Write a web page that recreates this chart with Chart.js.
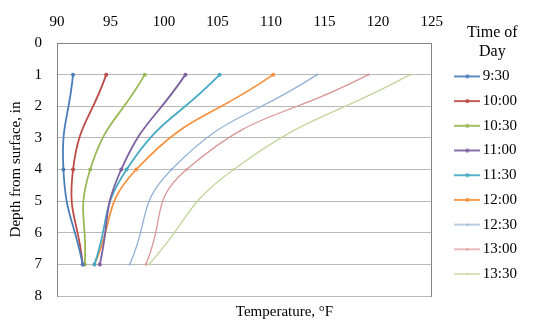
<!DOCTYPE html>
<html>
<head>
<meta charset="utf-8">
<title>Soil temperature by depth</title>
<script src="https://cdn.jsdelivr.net/npm/chart.js@4/dist/chart.umd.min.js"></script>
<style>
    html, body { margin: 0; padding: 0; background: #fff; }
    #wrap { width: 537px; height: 326px; position: relative; }
</style>
</head>
<body>
<div id="wrap"><canvas id="chart"></canvas></div>
<script>
"use strict";

// depth below the surface (in) where the probes sit
const depths = [1, 4, 7];

const times = ["9:30", "10:00", "10:30", "11:00", "11:30", "12:00", "12:30", "13:00", "13:30"];

// temperature (°F) at each depth
const t0930 = [91.5, 90.6, 92.4];
const t1000 = [94.6, 91.5, 92.4];
const t1030 = [98.2, 93.1, 92.6];
const t1100 = [102.0, 96.0, 94.0];
const t1130 = [105.2, 96.5, 93.5];
const t1200 = [110.2, 97.4, 93.5];
const t1230 = [114.3, 100.7, 96.8];
const t1300 = [119.1, 102.1, 98.3];
const t1330 = [123.0, 106.5, 98.6];

const tempTicks = [90, 95, 100, 105, 110, 115, 120, 125];

const series = [t0930, t1000, t1030, t1100, t1130, t1200, t1230, t1300, t1330];
const colors = ["#4a7ebb", "#be4b48", "#98b954", "#7d60a0", "#46aac5",
                "#f69240", "#95b3d7", "#d99694", "#c3d69b"];
const widths = [1.8, 1.8, 1.8, 1.8, 1.8, 1.8, 1.3, 1.3, 1.3];
const dots = [2, 2, 2, 2, 2, 2, 1.2, 1.2, 1.2];

const font = "'Liberation Serif', 'Times New Roman', serif";
Chart.defaults.font.family = font;
Chart.defaults.font.size = 15;
Chart.defaults.color = "#000";

const datasets = series.map((vals, i) => ({
    label: times[i],
    data: vals.map((t, k) => ({ x: t, y: depths[k] })),
    borderColor: colors[i],
    backgroundColor: colors[i],
    borderWidth: widths[i],
    pointRadius: dots[i],
    pointBorderWidth: 0,
    tension: 0.5,
    fill: false
}));

// legend swatch: short line with the marker in the middle
function swatch(i) {
    const cv = document.createElement("canvas");
    cv.width = 26;
    cv.height = 6;
    const c = cv.getContext("2d");
    c.strokeStyle = colors[i];
    c.fillStyle = colors[i];
    c.lineWidth = widths[i];
    c.beginPath();
    c.moveTo(0, 3);
    c.lineTo(26, 3);
    c.stroke();
    c.beginPath();
    c.arc(13, 3, dots[i], 0, Math.PI * 2);
    c.fill();
    return cv;
}
const swatches = colors.map((c, i) => swatch(i));

// x title goes under the plot even though the ticks are on top
const bottomTitle = {
    id: "bottomTitle",
    afterDraw(chart) {
        const a = chart.chartArea, c = chart.ctx;
        c.save();
        c.fillStyle = "#000";
        c.font = "15px " + font;
        c.textAlign = "center";
        c.textBaseline = "middle";
        c.fillText("Temperature, °F", chart.width / 2 + 16, a.bottom + 16);
        c.restore();
    }
};

const ctx = document.getElementById("chart").getContext("2d");
new Chart(ctx, {
    type: "line",
    data: { datasets: datasets },
    plugins: [bottomTitle],
    options: {
        responsive: true,
        maintainAspectRatio: false,
        animation: false,
        layout: { padding: { top: 0, bottom: 30, left: 0, right: 10 } },
        plugins: {
            tooltip: { enabled: false },
            legend: {
                position: "right",
                align: "start",
                title: {
                    display: true,
                    text: ["\u2002Time of", "\u2002Day"],
                    padding: { top: 25, bottom: 15 },
                    font: { size: 16 }
                },
                labels: {
                    usePointStyle: true,
                    pointStyleWidth: 16,
                    boxHeight: 6,
                    padding: 9.7,
                    font: { size: 15 },
                    generateLabels: chart =>
                        Chart.defaults.plugins.legend.labels.generateLabels(chart).map(l => {
                            l.pointStyle = swatches[l.datasetIndex];
                            return l;
                        })
                }
            }
        },
        scales: {
            x: {
                type: "linear",
                position: "top",
                min: tempTicks[0],
                max: tempTicks[tempTicks.length - 1],
                afterBuildTicks: s => { s.ticks = tempTicks.map(v => ({ value: v })); },
                afterFit: s => { s.height = 43; },
                grid: { display: false, drawTicks: false },
                border: { display: true, color: "#868686" },
                ticks: { padding: 12 }
            },
            y: {
                type: "linear",
                reverse: true,
                min: 0,
                max: 8,
                afterFit: s => { s.width = 57; },
                grid: { color: "#b9b9b9", drawTicks: false, lineWidth: 1 },
                border: { display: true, color: "#868686" },
                ticks: { stepSize: 1, padding: 15 },
                title: {
                    display: true,
                    text: "Depth from surface, in",
                    padding: { top: 7, bottom: 0 },
                    font: { size: 15 }
                }
            },
            // right-hand frame of the plot, no labels
            yRight: {
                type: "linear",
                position: "right",
                reverse: true,
                min: 0,
                max: 8,
                afterFit: s => { s.width = 18; },
                grid: { display: false, drawTicks: false },
                border: { display: true, color: "#868686" },
                ticks: { display: false }
            }
        }
    }
});
</script>
</body>
</html>
